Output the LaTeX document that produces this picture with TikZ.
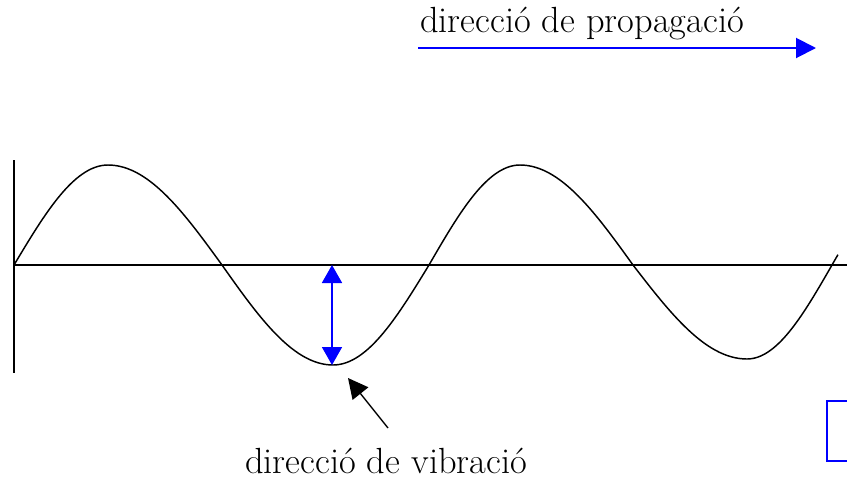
\documentclass[tikz,border=0pt]{standalone}
\usetikzlibrary{arrows.meta}
\begin{document}
\begin{tikzpicture}[x=0.75pt,y=-0.75pt,
  axis/.style={line width=1.1pt,black},
  wave/.style={line width=1.1pt,black},
  bluearrow/.style={line width=1.5pt,blue,-{Triangle[width=15pt,length=15pt]}},
  vibarrow/.style={line width=1.3pt,blue,{Triangle[width=15pt,length=13.5pt]}-{Triangle[width=15pt,length=13.5pt]}},
  blackarrow/.style={line width=1pt,black,-{Triangle[width=15pt,length=15pt]}},
  label/.style={font=\fontsize{27.3}{32}\selectfont,inner sep=0pt,anchor=base west}]
\useasboundingbox (0,0) rectangle (847,479);
% axes
\coordinate (vtop) at (14,160);
\coordinate (vbot) at (14,373);
\coordinate (hleft) at (14,265);
\coordinate (hright) at (847,265);
\draw[axis] (vtop) -- (vbot);
\draw[axis] (hleft) -- (hright);
% wave: quarter sine segments
\newcommand{\qup}[4]{% zero (x0,y0) to extreme (x1,y1)
  \draw[wave] plot[domain=0:1,samples=30,smooth] ({#1+(#3-#1)*\x},{#2+(#4-#2)*sin(90*\x)});}
\newcommand{\qdown}[5]{% extreme (x1,y1) to zero (x2,y0), t up to #5
  \draw[wave] plot[domain=0:#5,samples=30,smooth] ({#1+(#3-#1)*\x},{#4+(#2-#4)*cos(90*\x)});}
\qup{14}{265}{108}{165}
\qdown{108}{165}{222}{265}{1}
\qup{222}{265}{333}{365}
\qdown{333}{365}{429}{265}{1}
\qup{429}{265}{520}{165}
\qdown{520}{165}{633}{265}{1}
\qup{633}{265}{747}{359}
\qdown{747}{359}{832}{265}{1.07}
% propagation arrow
\node[label] (prop) at (420,32) {direcció de propagació};
\coordinate (pa) at (418,48);
\coordinate (pb) at (816,48);
\draw[bluearrow] (pa) -- (pb);
% vibration arrow
\coordinate (va) at (332,265);
\coordinate (vb) at (332,365);
\draw[vibarrow] (va) -- (vb);
% label arrow
\node[label] (vib) at (245,473) {direcció de vibració};
\coordinate (ba) at (388,428);
\coordinate (bb) at (348,378);
\draw[blackarrow] (ba) -- (bb);
% partial blue box at right edge
\node[draw=blue,line width=1.5pt,minimum width=60pt,minimum height=45pt,inner sep=0pt,anchor=north west] (box) at (826,400) {};
\end{tikzpicture}
\end{document}
